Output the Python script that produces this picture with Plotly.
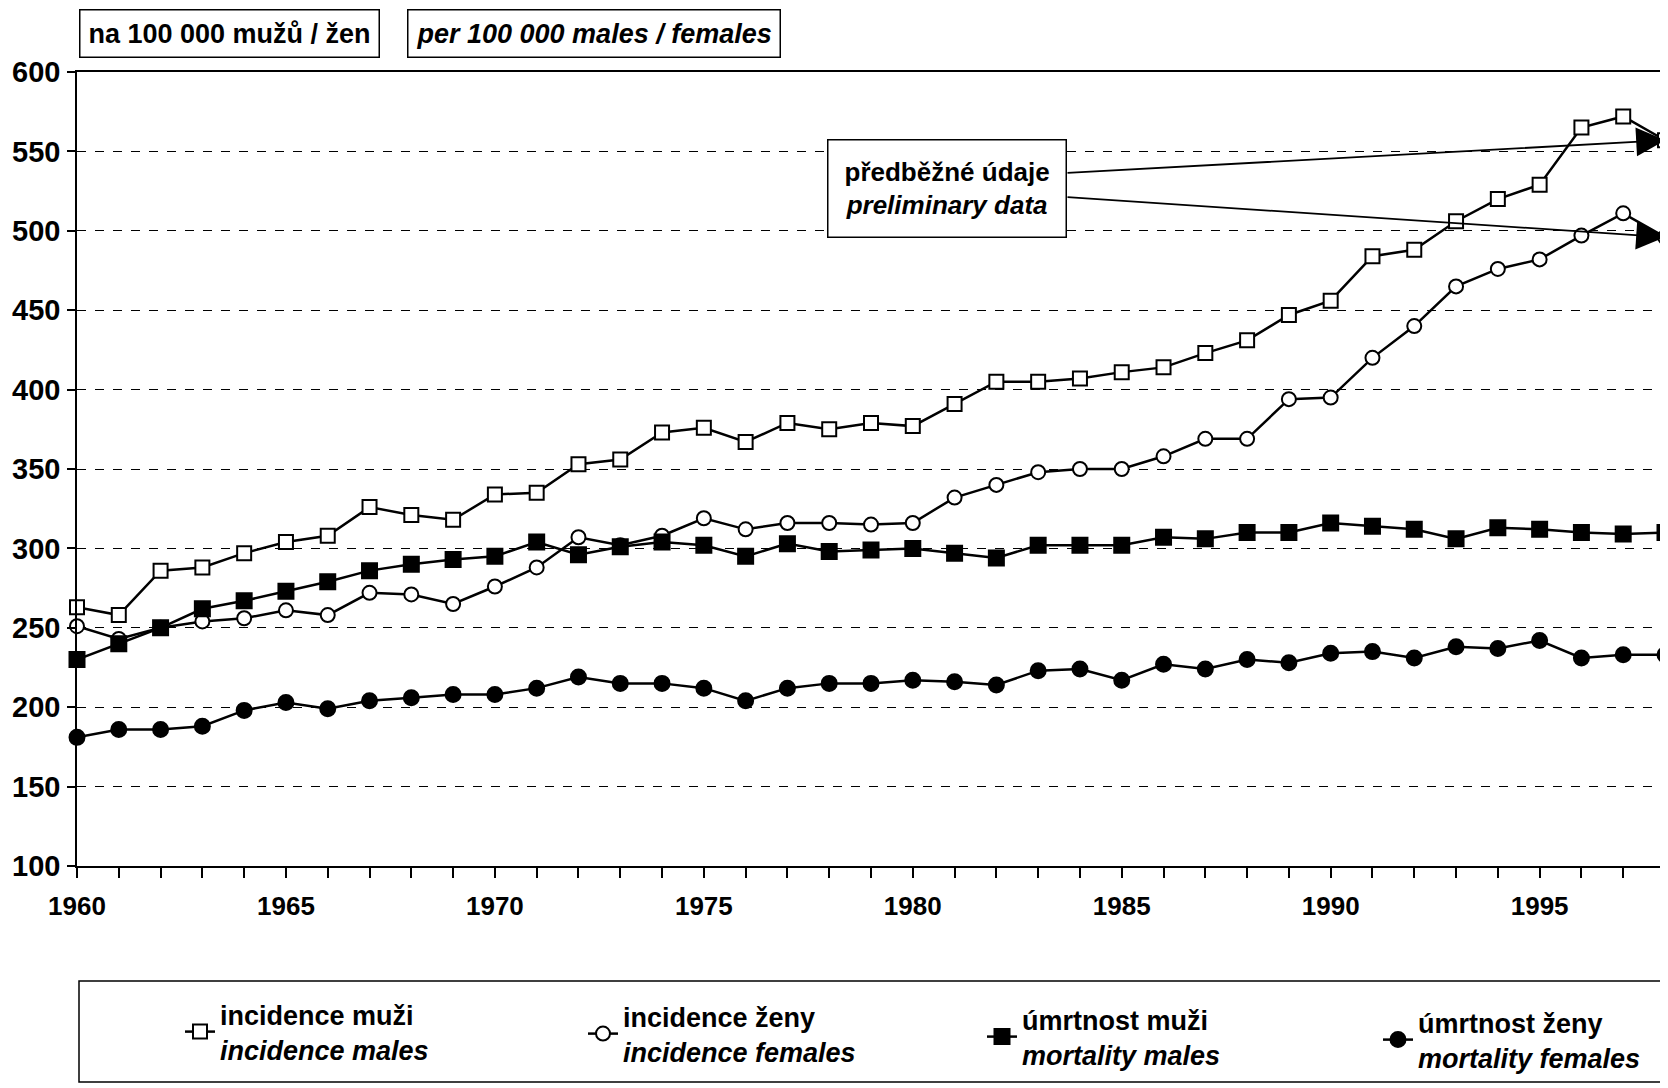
import plotly.graph_objects as go

years = list(range(1960, 1999))

inc_males = [263, 258, 286, 288, 297, 304, 308, 326, 321, 318,
             334, 335, 353, 356, 373, 376, 367, 379, 375, 379,
             377, 391, 405, 405, 407, 411, 414, 423, 431, 447,
             456, 484, 488, 506, 520, 529, 565, 572, 557]
inc_females = [251, 243, 250, 254, 256, 261, 258, 272, 271, 265,
               276, 288, 307, 302, 308, 319, 312, 316, 316, 315,
               316, 332, 340, 348, 350, 350, 358, 369, 369, 394,
               395, 420, 440, 465, 476, 482, 497, 511, 496]
mort_males = [230, 240, 250, 262, 267, 273, 279, 286, 290, 293,
              295, 304, 296, 301, 304, 302, 295, 303, 298, 299,
              300, 297, 294, 302, 302, 302, 307, 306, 310, 310,
              316, 314, 312, 306, 313, 312, 310, 309, 310]
mort_females = [181, 186, 186, 188, 198, 203, 199, 204, 206, 208,
                208, 212, 219, 215, 215, 212, 204, 212, 215, 215,
                217, 216, 214, 223, 224, 217, 227, 224, 230, 228,
                234, 235, 231, 238, 237, 242, 231, 233, 233]

names_cz = ["incidence muži", "incidence ženy", "úmrtnost muži", "úmrtnost ženy"]
names_en = ["incidence males", "incidence females", "mortality males", "mortality females"]

unit_cz = "na 100 000 mužů / žen"
unit_en = "per 100 000 males / females"
note_cz = "předběžné údaje"
note_en = "preliminary data"

FONT = "Liberation Sans, Arial, sans-serif"

# page body has an 8px margin: work in screenshot coordinates and shift
OFF = 8
W, H = 1668 - OFF, 1088 - OFF
PLOT_L, PLOT_R, PLOT_T, PLOT_B = 77, 1665, 72, 866
ML = PLOT_L - OFF
MT = PLOT_T - OFF
MR = W - (PLOT_R - OFF)
MB = H - (PLOT_B - OFF)
PW, PH = W - ML - MR, H - MT - MB


def px(xs):
    return (xs - PLOT_L) / PW


def py(ys):
    return (PLOT_B - ys) / PH


series = [inc_males, inc_females, mort_males, mort_females]
styles = [
    dict(symbol="square", color="white", size=14),
    dict(symbol="circle", color="white", size=14),
    dict(symbol="square", color="black", size=15),
    dict(symbol="circle", color="black", size=15),
]
legend_ids = ["legend", "legend2", "legend3", "legend4"]
legend_pos = [(180, 1032), (583, 1034), (982, 1037), (1378, 1040)]

fig = go.Figure()
for vals, st, cz, en, lid in zip(series, styles, names_cz, names_en, legend_ids):
    fig.add_trace(go.Scatter(
        x=years, y=vals, mode="lines+markers",
        name=f"{cz}<br><i>{en}</i>",
        line=dict(color="black", width=2.5),
        marker=dict(symbol=st["symbol"], size=st["size"], color=st["color"],
                    line=dict(color="black", width=2)),
        cliponaxis=False, legend=lid,
    ))

fig.update_xaxes(
    range=[1960, 1998], tickmode="linear", tick0=1960, dtick=5,
    ticks="outside", ticklen=10, tickwidth=1.5, tickcolor="black",
    minor=dict(dtick=1, tick0=1960, ticks="outside", ticklen=10,
               tickwidth=1.5, tickcolor="black", showgrid=False),
    showline=True, linecolor="black", linewidth=1.5, mirror=True,
    showgrid=False, zeroline=False,
    tickfont=dict(family=FONT, size=26, color="black", weight="bold"),
    ticklabelstandoff=6,
)
fig.update_yaxes(
    range=[100, 600], tickmode="linear", tick0=100, dtick=50,
    ticks="outside", ticklen=8, tickwidth=1.5, tickcolor="black",
    showline=True, linecolor="black", linewidth=1.5, mirror=True,
    showgrid=True, gridcolor="black", gridwidth=1.2, griddash="dash",
    zeroline=False,
    tickfont=dict(family=FONT, size=29, color="black", weight="bold"),
    ticklabelstandoff=1,
)

legfont = dict(family=FONT, size=27, color="black", weight="bold")
legends = {}
for lid, (lx, ly) in zip(legend_ids, legend_pos):
    legends[lid] = dict(
        orientation="h", x=px(lx), xanchor="left", y=py(ly), yanchor="middle",
        font=legfont, bgcolor="rgba(0,0,0,0)", borderwidth=0,
    )

annfont = dict(family=FONT, size=27, color="black", weight="bold")

fig.update_layout(
    width=W, height=H,
    margin=dict(l=ML, r=MR, t=MT, b=MB, autoexpand=False),
    plot_bgcolor="white", paper_bgcolor="white",
    showlegend=True,
    shapes=[dict(type="rect", xref="paper", yref="paper",
                 x0=px(79), x1=px(1663), y0=py(981), y1=py(1082),
                 line=dict(color="black", width=1.5), fillcolor="rgba(0,0,0,0)")],
    **legends,
)

# unit boxes
fig.add_annotation(xref="paper", yref="paper", x=px(79), y=py(9), xanchor="left", yanchor="top",
                   text=unit_cz, showarrow=False, font=annfont,
                   bordercolor="black", borderwidth=1.5, borderpad=8, bgcolor="white")
fig.add_annotation(xref="paper", yref="paper", x=px(407), y=py(9), xanchor="left", yanchor="top",
                   text=f"<i>{unit_en}</i>", showarrow=False, font=annfont,
                   bordercolor="black", borderwidth=1.5, borderpad=8, bgcolor="white")

# arrows from note box to preliminary 1998 values
box_right_x = 1960 + (1066 - PLOT_L) / PW * 38
for tip_y, tail_px in [(inc_males[-1], 173), (inc_females[-1], 197)]:
    tail_val = 600 - (tail_px - PLOT_T) / PH * 500
    fig.add_annotation(x=years[-1], y=tip_y, xref="x", yref="y",
                       ax=box_right_x, ay=tail_val, axref="x", ayref="y",
                       text="", showarrow=True, arrowhead=2, arrowsize=3.2,
                       arrowwidth=1.8, arrowcolor="black", standoff=0)

# note box
fig.add_annotation(xref="x", yref="y", x=1960 + (947 - PLOT_L) / PW * 38,
                   y=600 - (188 - PLOT_T) / PH * 500, xanchor="center", yanchor="middle",
                   text=f"{note_cz}<br><i>{note_en}</i>", showarrow=False,
                   font=dict(family=FONT, size=26, color="black", weight="bold"),
                   bordercolor="black", borderwidth=1.5, borderpad=16, bgcolor="white")

fig.write_html("out.html")
